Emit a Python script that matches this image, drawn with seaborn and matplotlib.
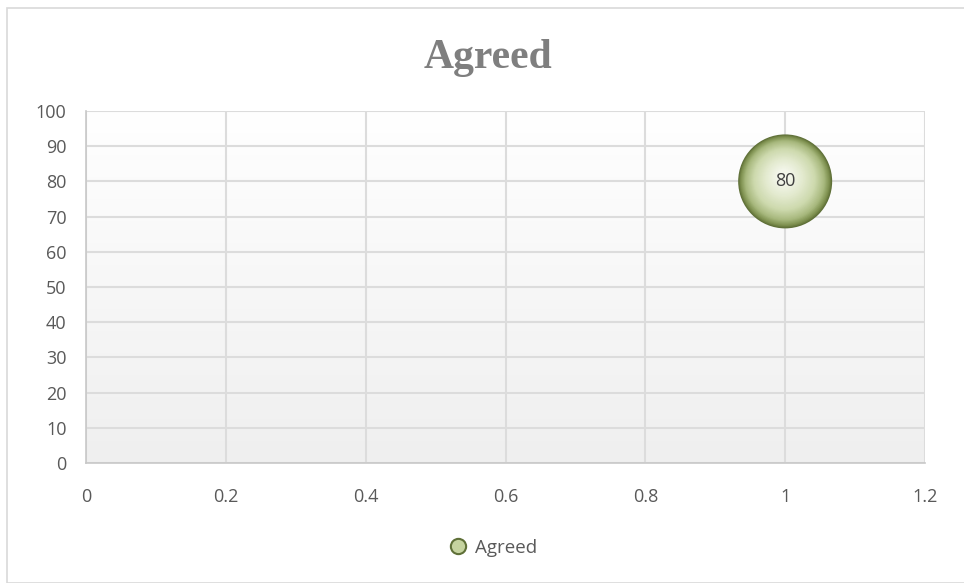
import numpy as np
import pandas as pd
import matplotlib
matplotlib.use("Agg")
import matplotlib.pyplot as plt
import matplotlib.transforms as mtransforms
from matplotlib.patches import Rectangle
from matplotlib.lines import Line2D
from matplotlib.colors import LinearSegmentedColormap
import seaborn as sns

# Data
series = ["Agreed"]
x_vals = [1.0]
y_vals = [80]
labels = ["80"]
x_ticks = [0, 0.2, 0.4, 0.6, 0.8, 1, 1.2]
x_tick_labels = ["0", "0.2", "0.4", "0.6", "0.8", "1", "1.2"]
y_ticks = [0, 10, 20, 30, 40, 50, 60, 70, 80, 90, 100]

df = pd.DataFrame({"series": series, "x": x_vals, "y": y_vals})

sns.set_theme(style="white")
plt.rcParams["font.family"] = ["Open Sans", "DejaVu Sans"]

fig = plt.figure(figsize=(9.64, 5.83), dpi=100)
ax = fig.add_axes([86 / 964, 1 - 463 / 583, (925 - 86) / 964, (463 - 111) / 583])

# figure border
fig.patches.append(Rectangle((7 / 964, 0.0), 1.0, 1 - 8 / 583, transform=fig.transFigure,
                             fill=False, edgecolor="#d9d9d9", linewidth=1.2))

# plot area gradient background
grad = np.linspace(0, 1, 256).reshape(-1, 1)
bg_cmap = LinearSegmentedColormap.from_list("bg", ["#ffffff", "#efefef"])
ax.imshow(grad, cmap=bg_cmap, aspect="auto", extent=[0, 1, 0, 1],
          transform=ax.transAxes, zorder=0)

ax.set_xlim(0, 1.2)
ax.set_ylim(0, 100)

# bubble: many layers for a smooth shaded sphere look
outer_size = 4580
shade = LinearSegmentedColormap.from_list(
    "shade", [(0.0, "#5f7038"), (0.06, "#7f9150"), (0.18, "#a8b97e"),
              (0.40, "#cdd9ad"), (0.70, "#e3eacf"), (1.0, "#f3f6ea")])
n_layers = 40
for i in range(n_layers):
    t = i / (n_layers - 1)
    frac = 1.0 - 0.85 * t
    dy = 5.0 * t
    off = mtransforms.ScaledTranslation(-dy * 0.3 / 100, dy / 100, fig.dpi_scale_trans)
    sns.scatterplot(data=df, x="x", y="y", ax=ax, s=outer_size * frac ** 2,
                    color=shade(t), edgecolor="none", linewidth=0, legend=False,
                    zorder=3, transform=ax.transData + off)
for xv, yv, lab in zip(x_vals, y_vals, labels):
    ax.text(xv, yv, lab, ha="center", va="center", fontsize=13, color="#404040", zorder=5)

# grid
ax.set_xticks(x_ticks)
ax.set_xticklabels(x_tick_labels)
ax.set_yticks(y_ticks)
ax.grid(True, color="#dcdcdc", linewidth=1.5, zorder=1)
ax.set_axisbelow(True)
for s in ["top", "right"]:
    ax.spines[s].set_visible(False)
for s in ["left", "bottom"]:
    ax.spines[s].set_color("#c8c8c8")
    ax.spines[s].set_linewidth(1.2)
ax.tick_params(axis="both", colors="#595959", labelsize=13, length=0)
ax.tick_params(axis="y", pad=14)
ax.tick_params(axis="x", pad=18)
ax.set_xlabel("")
ax.set_ylabel("")

# title
fig.text(488 / 964, 1 - 58 / 583, "Agreed", ha="center", va="center",
         fontsize=30, fontweight="bold", color="#7f7f7f",
         family=["Liberation Serif", "DejaVu Serif"])

# legend
handle = Line2D([0], [0], marker="o", linestyle="none", markersize=11,
                markerfacecolor="#c5d39f", markeredgecolor="#5f7038", markeredgewidth=1.5)
fig.legend([handle], series, loc="center", bbox_to_anchor=(492 / 964, 1 - 548 / 583),
           frameon=False, fontsize=13.5, labelcolor="#595959", handletextpad=0.3,
           handlelength=1.2)

fig.savefig("out.png", dpi=100)
